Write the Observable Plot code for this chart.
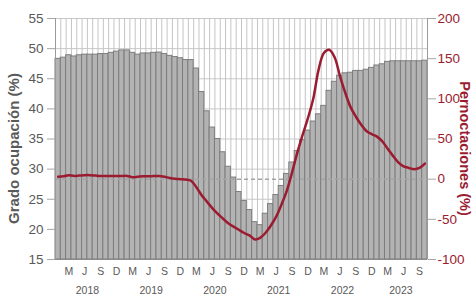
<!DOCTYPE html>
<html>
<head>
<meta charset="utf-8">
<script src="https://cdn.jsdelivr.net/npm/d3@7"></script>
<script src="https://cdn.jsdelivr.net/npm/@observablehq/plot@0.6"></script>
<style>
  html, body { margin: 0; padding: 0; background: #fff; }
  #chart svg { display: block; }
</style>
</head>
<body>
<div id="chart"></div>
<script>
// Months: Jan 2018 .. Oct 2023
const months = d3.utcMonths(new Date(Date.UTC(2018, 0, 1)), new Date(Date.UTC(2023, 10, 1)));

// Grado ocupación (%) — bars, left axis
const occupancy = [
  48.3, 48.5, 48.9, 48.7, 48.9, 49.0, 49.0, 49.0, 49.1, 49.1, 49.3, 49.5,
  49.7, 49.7, 49.3, 49.0, 49.2, 49.2, 49.3, 49.35, 49.1, 48.8, 48.6, 48.4,
  48.1, 48.1, 46.7, 42.8, 39.6, 36.9, 35.0, 32.8, 30.4, 28.6, 26.2, 24.7,
  23.2, 21.2, 20.7, 22.6, 24.2, 25.7, 27.2, 29.2, 31.1, 33.0, 34.8, 36.4,
  37.9, 39.1, 40.5, 43.0, 44.5, 45.5, 45.9, 46.0, 46.3, 46.3, 46.5, 46.8,
  47.2, 47.4, 47.8, 47.9, 47.9, 47.9, 47.9, 47.9, 47.9, 48.0
];

// Pernoctaciones (%) — line, right axis
const overnight = [
  3, 3.5, 5, 4, 4.5, 5, 5, 4.5, 4, 4, 4, 4,
  4, 4, 2.5, 3, 3.5, 3.5, 4, 4, 3, 1.5, 0.5, 0,
  -0.5, -2, -10, -20, -28, -36, -43, -49, -55, -59, -63, -67,
  -70, -75, -73, -67, -58, -47, -32, -15, 8, 33, 55, 76,
  100, 136, 157, 161, 152, 129, 108, 90, 78, 68, 60, 56,
  53, 47, 38, 29, 21, 16, 14, 12.5, 14, 19.5
];

const monthLetters = {2: "M", 5: "J", 8: "S", 11: "D"};
const leftTicks = [15, 20, 25, 30, 35, 40, 45, 50, 55];
const rightTicks = [-100, -50, 0, 50, 100, 150, 200];
const leftDomain = [15, 55];
const rightDomain = [-100, 200];

const toLeft = p => leftDomain[0] + (p - rightDomain[0]) * (leftDomain[1] - leftDomain[0]) / (rightDomain[1] - rightDomain[0]);
const fromLeft = v => rightDomain[0] + (v - leftDomain[0]) * (rightDomain[1] - rightDomain[0]) / (leftDomain[1] - leftDomain[0]);

const data = months.map((d, i) => ({i, date: d, occ: occupancy[i], pern: overnight[i]}));
const monthTicks = data.filter(d => d.date.getUTCMonth() in monthLetters);
const years = Array.from(d3.group(data, d => d.date.getUTCFullYear()), ([year, rows]) => ({
  year, pos: (d3.min(rows, r => r.i) + d3.max(rows, r => r.i) + 1) / 2
}));

const grey = "#595959";
const red = "#9b1b30";
const font = "'Liberation Sans', Arial, sans-serif";

const chart = Plot.plot({
  width: 475,
  height: 296,
  marginLeft: 55,
  marginRight: 48,
  marginTop: 18,
  marginBottom: 37,
  style: {fontFamily: font, background: "#fff"},
  x: {domain: [0, data.length], axis: null},
  y: {domain: leftDomain, axis: null},
  marks: [
    Plot.ruleY(leftTicks.slice(1), {stroke: "#c8c8c8", strokeWidth: 1}),
    Plot.ruleX(d3.range(0, data.length + 1), {stroke: "#c4c4c4", strokeWidth: 1}),
    Plot.rectY(data, {x1: "i", x2: d => d.i + 1, y1: leftDomain[0], y2: "occ",
      fill: "#b3b3b3", stroke: "#7d7d7d", strokeWidth: 1}),
    Plot.ruleY([toLeft(0)], {stroke: "#a3a3a3", strokeWidth: 1.5, strokeDasharray: "4,3"}),
    Plot.line(data, {x: d => d.i + 0.5, y: d => toLeft(d.pern), stroke: red,
      strokeWidth: 2.5, curve: "catmull-rom"}),
    Plot.ruleX([0, data.length], {stroke: "#9a9a9a", strokeWidth: 1}),
    Plot.ruleY([leftDomain[0]], {stroke: "#8a8a8a", strokeWidth: 1}),
    // left axis
    Plot.axisY(leftTicks, {anchor: "left", tickSize: 8, tickFormat: () => "", stroke: "#a6a6a6", label: null}),
    Plot.axisY(leftTicks, {anchor: "left", tickSize: 0, tickPadding: 12, fill: grey, fontSize: 13.5, label: null}),
    // right axis
    Plot.axisY(rightTicks.map(toLeft), {anchor: "right", tickSize: 8, tickFormat: () => "", stroke: "#a6a6a6", label: null}),
    Plot.axisY(rightTicks.map(toLeft), {anchor: "right", tickSize: 0, tickPadding: 10,
      tickFormat: v => String(Math.round(fromLeft(v))), fill: red, fontSize: 13.5, label: null}),
    // bottom month letters
    Plot.axisX(monthTicks.map(d => d.i + 0.5), {anchor: "bottom", tickSize: 0, tickPadding: 8,
      tickFormat: v => monthLetters[months[Math.floor(v)].getUTCMonth()], fill: grey, fontSize: 10.5, label: null}),
    // year labels
    Plot.text(years, {x: "pos", text: d => String(d.year), frameAnchor: "bottom", dy: 31,
      lineAnchor: "middle", fill: grey, fontSize: 10.5}),
    // axis titles
    Plot.text([0], {text: () => "Grado ocupación (%)", frameAnchor: "left", dx: -41, dy: 9.5,
      rotate: -90, textAnchor: "middle", lineAnchor: "middle",
      fontWeight: "bold", fontSize: 15, fill: grey}),
    Plot.text([0], {text: () => "Pernoctaciones (%)", frameAnchor: "right", dx: 37, dy: 9.5,
      rotate: 90, textAnchor: "middle", lineAnchor: "middle",
      fontWeight: "bold", fontSize: 14.5, fill: red})
  ]
});

document.getElementById("chart").appendChild(chart);
</script>
</body>
</html>
